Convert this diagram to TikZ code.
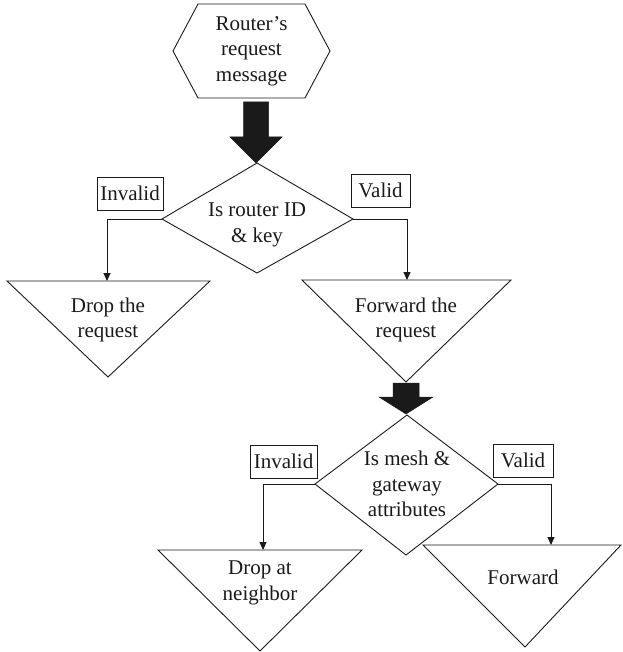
\documentclass[tikz,border=0pt]{standalone}
\usepackage{fontspec}
\setmainfont{Liberation Serif}
\usetikzlibrary{arrows.meta}
\definecolor{ink}{HTML}{1A1A1A}
\begin{document}
\begin{tikzpicture}[x=1pt,y=-1pt,
  shapeline/.style={draw=ink,line width=0.9pt,line join=miter},
  txt/.style={align=center,inner sep=0pt,text=ink,font=\fontsize{21}{25.5}\selectfont},
  labelbox/.style={draw=ink,line width=0.8pt,inner sep=0pt,text=ink,font=\fontsize{21}{25.5}\selectfont,minimum height=33pt},
  conn/.style={draw=ink,line width=1pt,-{Triangle[length=8pt,width=7pt]}},
  bigarrow/.style={fill=ink,draw=ink,line width=0.5pt}]
\useasboundingbox (0,0) rectangle (622,652);

% start hexagon
\coordinate (h1) at (173,51);
\coordinate (h2) at (198,4);
\coordinate (h3) at (305,4);
\coordinate (h4) at (330,51);
\coordinate (h5) at (305,98);
\coordinate (h6) at (198,98);
\path[shapeline] (h1) -- (h2) -- (h3) -- (h4) -- (h5) -- (h6) -- cycle;
\node[txt] (start) at (251.5,51) {Router’s\\request\\message};

% big arrow 1
\path[bigarrow] (243.5,102) -- (268.5,102) -- (268.5,137) -- (282,137) -- (256,163) -- (230,137) -- (243.5,137) -- cycle;

% decision 1
\coordinate (d1t) at (257,163);
\coordinate (d1l) at (162,219);
\coordinate (d1b) at (257,273);
\coordinate (d1r) at (353,219);
\path[shapeline] (d1t) -- (d1r) -- (d1b) -- (d1l) -- cycle;
\node[txt] (dec1) at (257,225) {Is router ID\\\& key};

\node[labelbox,minimum width=66pt] (inv1) at (130,193.5) {Invalid};
\node[labelbox,minimum width=59pt] (val1) at (380.5,190.5) {Valid};

% triangle: drop the request
\coordinate (t1a) at (7,281);
\coordinate (t1b) at (210,281);
\coordinate (t1c) at (108,377);
\coordinate (t1top) at (107,281);
\path[shapeline] (t1a) -- (t1b) -- (t1c) -- cycle;
\node[txt] (drop1) at (108,320) {Drop the\\request};

% triangle: forward the request
\coordinate (t2a) at (302,280);
\coordinate (t2b) at (511,280);
\coordinate (t2c) at (406,382);
\coordinate (t2top) at (407,280);
\path[shapeline] (t2a) -- (t2b) -- (t2c) -- cycle;
\node[txt] (fwd1) at (406,320) {Forward the\\request};

\draw[conn] (d1l) -| (t1top);
\draw[conn] (d1r) -| (t2top);

% big arrow 2
\path[bigarrow] (393,383) -- (419,383) -- (419,397) -- (433,397) -- (406,414) -- (379,397) -- (393,397) -- cycle;

% decision 2
\coordinate (d2t) at (407,415);
\coordinate (d2l) at (315,484);
\coordinate (d2b) at (406,555);
\coordinate (d2r) at (498,484);
\path[shapeline] (d2t) -- (d2r) -- (d2b) -- (d2l) -- cycle;
\node[txt] (dec2) at (407,484) {Is mesh \&\\gateway\\attributes};

\node[labelbox,minimum width=67pt] (inv2) at (283.5,461.5) {Invalid};
\node[labelbox,minimum width=60pt] (val2) at (523,460.5) {Valid};

% triangle: drop at neighbor
\coordinate (t3a) at (158,550);
\coordinate (t3b) at (362,550);
\coordinate (t3c) at (260,651);
\coordinate (t3top) at (263,550);
\path[shapeline] (t3a) -- (t3b) -- (t3c) -- cycle;
\node[txt] (drop2) at (260,583) {Drop at\\neighbor};

% triangle: forward
\coordinate (t4a) at (423,545);
\coordinate (t4b) at (621,545);
\coordinate (t4c) at (525,647);
\coordinate (t4top) at (551,545);
\path[shapeline] (t4a) -- (t4b) -- (t4c) -- cycle;
\node[txt] (fwd2) at (523,577) {Forward};

\draw[conn] (d2l) -| (t3top);
\draw[conn] (d2r) -| (t4top);
\end{tikzpicture}
\end{document}
